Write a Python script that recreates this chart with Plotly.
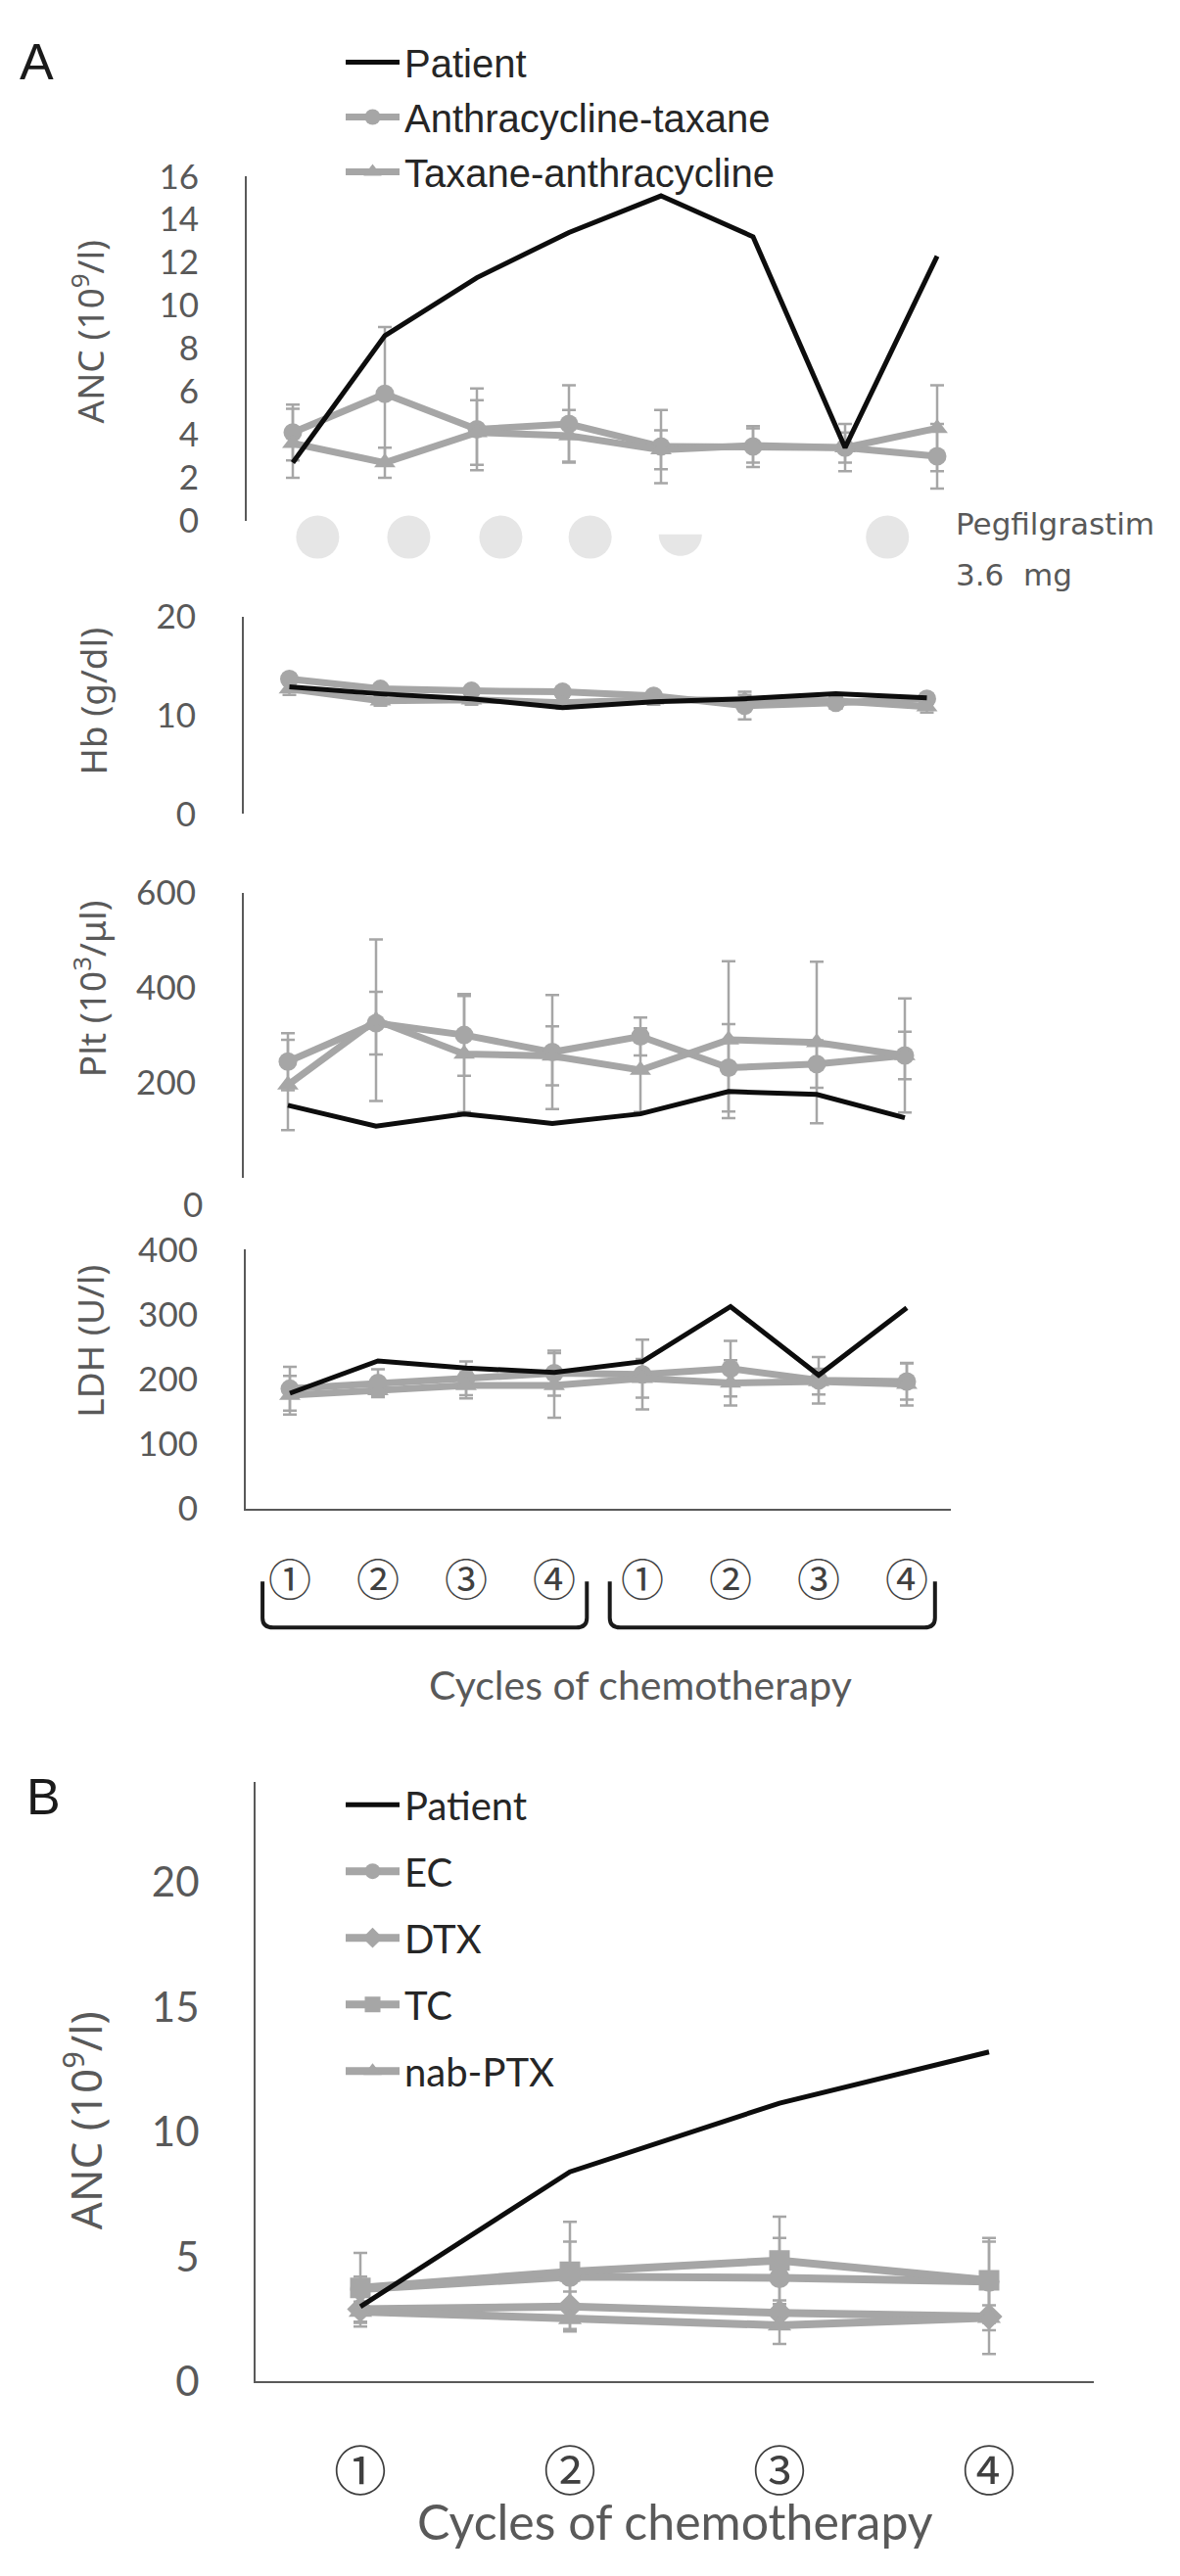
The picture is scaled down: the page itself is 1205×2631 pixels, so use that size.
import plotly.graph_objects as go

W, H = 1205, 2631

# ---- data ----
cycles_a = [1, 2, 3, 4, 5, 6, 7, 8]
cycle_labels_a = ["①", "②", "③", "④", "①", "②", "③", "④"]

patient_anc = [2.7, 8.6, 11.3, 13.4, 15.1, 13.2, 3.4, 12.3]
at_anc = [4.1, 5.9, 4.25, 4.5, 3.45, 3.45, 3.4, 3.0]
at_anc_sd = [1.3, 3.1, 1.9, 1.8, 1.7, 0.95, 1.1, 1.5]
ta_anc = [3.6, 2.7, 4.1, 3.95, 3.3, 3.5, 3.4, 4.3]
ta_anc_sd = [1.6, 0.7, 1.5, 1.2, 0.9, 0.8, 0.7, 2.0]

patient_hb = [12.9, 12.2, 11.7, 10.8, 11.4, 11.7, 12.2, 11.8]
at_hb = [13.7, 12.7, 12.5, 12.4, 12.0, 11.0, 11.3, 11.7]
at_hb_sd = [0.5, 0.4, 0.4, 0.5, 0.4, 1.4, 0.6, 0.5]
ta_hb = [12.7, 11.5, 11.6, 11.3, 11.6, 11.6, 11.5, 10.9]
ta_hb_sd = [0.6, 0.5, 0.5, 0.6, 0.5, 0.5, 0.5, 0.6]

patient_plt = [153, 109, 135, 115, 135, 182, 176, 127]
at_plt = [245, 326, 301, 265, 298, 232, 240, 258]
at_plt_sd = [60, 66, 86, 120, 40, 92, 50, 50]
ta_plt = [196, 332, 261, 257, 227, 291, 285, 258]
ta_plt_sd = [95, 170, 122, 62, 88, 165, 170, 120]

patient_ldh = [178, 228, 217, 210, 227, 312, 206, 310]
at_ldh = [185, 194, 201, 209, 207, 216, 198, 196]
at_ldh_sd = [34, 21, 26, 35, 54, 43, 36, 28]
ta_ldh = [175, 182, 190, 190, 201, 194, 196, 192]
ta_ldh_sd = [30, 10, 20, 50, 30, 35, 20, 33]

# pegfilgrastim dots sit between cycles; 0.5 = half dot
peg_cycles = [1.27, 2.26, 3.26, 4.23, 5.21, 7.46]
peg_dose = [1, 1, 1, 1, 0.5, 1]

cycles_b = [1, 2, 3, 4]
cycle_labels_b = ["①", "②", "③", "④"]
patient_b = [3.0, 8.4, 11.15, 13.2]
ec_b = [3.7, 4.2, 4.15, 4.0]
ec_b_sd = [0.5, 2.2, 1.6, 1.6]
dtx_b = [2.9, 3.0, 2.75, 2.6]
dtx_b_sd = [0.5, 0.6, 0.5, 1.5]
tc_b = [3.75, 4.4, 4.85, 4.05]
tc_b_sd = [1.4, 1.2, 1.75, 1.7]
nab_b = [2.8, 2.5, 2.25, 2.55]
nab_b_sd = [0.6, 0.4, 0.75, 0.5]

GRAY = "#a6a6a6"
AXIS = "#595959"
TXT = "#404040"


def fx(x):
    return x / W


def fy(y):
    return 1 - y / H


fig = go.Figure()


def axis_ref(n):
    return ("x" if n == 1 else f"x{n}"), ("y" if n == 1 else f"y{n}")


def add_group(n, x, y, sd, name, symbol, legend, rank, show, width=7, size=19):
    xa, ya = axis_ref(n)
    fig.add_trace(go.Scatter(
        x=x, y=y, name=name, mode="lines+markers",
        line=dict(color=GRAY, width=width),
        marker=dict(symbol=symbol, size=size, color=GRAY),
        error_y=dict(type="data", array=sd, color=GRAY, thickness=2.5, width=7),
        xaxis=xa, yaxis=ya, legend=legend, legendgroup=legend + name,
        legendrank=rank, showlegend=show))


def add_patient(n, x, y, legend, show):
    xa, ya = axis_ref(n)
    fig.add_trace(go.Scatter(
        x=x, y=y, name="Patient", mode="lines",
        line=dict(color="#0d0d0d", width=5),
        xaxis=xa, yaxis=ya, legend=legend, legendgroup=legend + "Patient",
        legendrank=1, showlegend=show))


panels_a = [
    (1, at_anc, at_anc_sd, ta_anc, ta_anc_sd, patient_anc),
    (2, at_hb, at_hb_sd, ta_hb, ta_hb_sd, patient_hb),
    (3, at_plt, at_plt_sd, ta_plt, ta_plt_sd, patient_plt),
    (4, at_ldh, at_ldh_sd, ta_ldh, ta_ldh_sd, patient_ldh),
]
for n, at, at_sd, ta, ta_sd, pat in panels_a:
    first = n == 1
    add_group(n, cycles_a, at, at_sd, "Anthracycline-taxane", "circle", "legend", 2, first)
    add_group(n, cycles_a, ta, ta_sd, "Taxane-anthracycline", "triangle-up", "legend", 3, first)
    add_patient(n, cycles_a, pat, "legend", first)

add_group(5, cycles_b, ec_b, ec_b_sd, "EC", "circle", "legend2", 2, True, 8, 21)
add_group(5, cycles_b, dtx_b, dtx_b_sd, "DTX", "diamond", "legend2", 3, True, 8, 21)
add_group(5, cycles_b, tc_b, tc_b_sd, "TC", "square", "legend2", 4, True, 8, 21)
add_group(5, cycles_b, nab_b, nab_b_sd, "nab-PTX", "triangle-up", "legend2", 5, True, 8, 21)
add_patient(5, cycles_b, patient_b, "legend2", True)


def yax(top, bottom, rng, size=35, standoff=40, **kw):
    d = dict(domain=[fy(bottom), fy(top)], range=rng, showline=True, linecolor=AXIS,
             linewidth=2, ticks="", showgrid=False, zeroline=False,
             tickfont=dict(family="Lato", size=size, color=AXIS),
             ticklabelstandoff=standoff)
    d.update(kw)
    return d


def xax(left, right, rng, anchor, labels=None, tickvals=None, size=44, standoff=35):
    d = dict(domain=[fx(left), fx(right)], range=rng, anchor=anchor,
             showgrid=False, zeroline=False, ticks="")
    if labels is None:
        d.update(showline=False, showticklabels=False)
    else:
        d.update(showline=True, linecolor=AXIS, linewidth=2, tickvals=tickvals,
                 ticktext=labels, ticklabelstandoff=standoff,
                 tickfont=dict(family="Noto Sans CJK JP", size=size, color=TXT))
    return d


fig.update_layout(
    width=W, height=H, margin=dict(l=0, r=0, t=0, b=0),
    paper_bgcolor="white", plot_bgcolor="white",
    xaxis=xax(244, 996, [0.5, 8.5], "y"),
    yaxis=yax(152, 510, [0, 16], dtick=2, anchor="x"),
    xaxis2=xax(241, 985, [0.5, 8.5], "y2"),
    yaxis2=yax(610, 815, [0, 20], dtick=10, anchor="x2"),
    xaxis3=xax(241, 961, [0.5, 8.5], "y3"),
    yaxis3=yax(897, 1193.5, [0, 600], tickvals=[200, 400, 600], anchor="x3"),
    xaxis4=xax(243, 963, [0.5, 8.5], "y4", cycle_labels_a, cycles_a, 44, 35),
    yaxis4=yax(1268, 1537, [0, 400], dtick=100, anchor="x4"),
    xaxis5=xax(253, 1109, [0.5, 4.5], "y5", cycle_labels_b, cycles_b, 54, 45),
    yaxis5=yax(1822, 2445, [0, 24], size=42, standoff=47, dtick=5, anchor="x5"),
    legend=dict(x=fx(340), y=fy(0), xanchor="left", yanchor="top",
                font=dict(family="Liberation Sans", size=40, color="#262626"),
                itemwidth=55, traceorder="grouped", tracegroupgap=1,
                bgcolor="rgba(0,0,0,0)"),
    legend2=dict(x=fx(340), y=fy(1812), xanchor="left", yanchor="top",
                 font=dict(family="Lato", size=40, color="#262626"),
                 itemwidth=55, traceorder="grouped", tracegroupgap=13,
                 bgcolor="rgba(0,0,0,0)"),
)

# pegfilgrastim dots under the ANC panel
for pos, dose in zip(peg_cycles, peg_dose):
    if dose == 1:
        fig.add_shape(type="circle", xref="x", yref="paper", xsizemode="pixel",
                      ysizemode="pixel", xanchor=pos, yanchor=fy(527),
                      x0=-22, x1=22, y0=-22, y1=22,
                      fillcolor="#e6e6e6", line=dict(width=0))
    else:
        fig.add_shape(type="path", xref="x", yref="paper", xsizemode="pixel",
                      ysizemode="pixel", xanchor=pos, yanchor=fy(524),
                      path="M -22,0 C -22,-12.2 -12.2,-22 0,-22 C 12.2,-22 22,-12.2 22,0 Z",
                      fillcolor="#e6e6e6", line=dict(width=0))

# brackets grouping the two regimens under the LDH axis
rx, ry = 0.12, 10 / H
for x0, x1 in [(0.69, 4.37), (4.63, 8.32)]:
    yt, yb = fy(1613), fy(1661)
    fig.add_shape(type="path", xref="x4", yref="paper",
                  path=(f"M {x0},{yt} L {x0},{yb + ry} Q {x0},{yb} {x0 + rx},{yb} "
                        f"L {x1 - rx},{yb} Q {x1},{yb} {x1},{yb + ry} L {x1},{yt}"),
                  line=dict(color="#1a1a1a", width=4))

ann = [
    dict(text="A", x=30, y=33, size=52, family="Liberation Sans", color="#1a1a1a"),
    dict(text="B", x=36, y=1837, size=52, family="Liberation Sans", color="#1a1a1a"),
    dict(text="ANC (10<sup>9</sup>/l)", x=82, y=314, size=37, angle=-90),
    dict(text="Hb (g/dl)", x=87, y=697, size=37, angle=-90),
    dict(text="Plt (10<sup>3</sup>/μl)", x=84, y=997, size=37, angle=-90),
    dict(text="LDH (U/l)", x=84, y=1363, size=37, angle=-90),
    dict(text="ANC (10<sup>9</sup>/l)", x=77, y=2174, size=44, angle=-90),
    dict(text="Cycles of chemotherapy", x=646, y=1720, size=41, family="Lato"),
    dict(text="Cycles of chemotherapy", x=681, y=2590, size=50, family="Lato"),
    dict(text="Pegfilgrastim", x=966, y=513, size=31, family="DejaVu Sans", xanchor="left"),
    dict(text="3.6\u00a0 mg", x=966, y=566, size=31, family="DejaVu Sans", xanchor="left"),
    dict(text="0", x=201, y=1220, size=35, family="Lato", xanchor="right"),
]
for a in ann:
    fig.add_annotation(
        text=a["text"], x=fx(a["x"]), y=fy(a["y"]), xref="paper", yref="paper",
        xanchor=a.get("xanchor", "center"), yanchor="middle", showarrow=False,
        textangle=a.get("angle", 0),
        font=dict(family=a.get("family", "Noto Sans"), size=a["size"],
                  color=a.get("color", AXIS)))

fig.write_html("out.html")
